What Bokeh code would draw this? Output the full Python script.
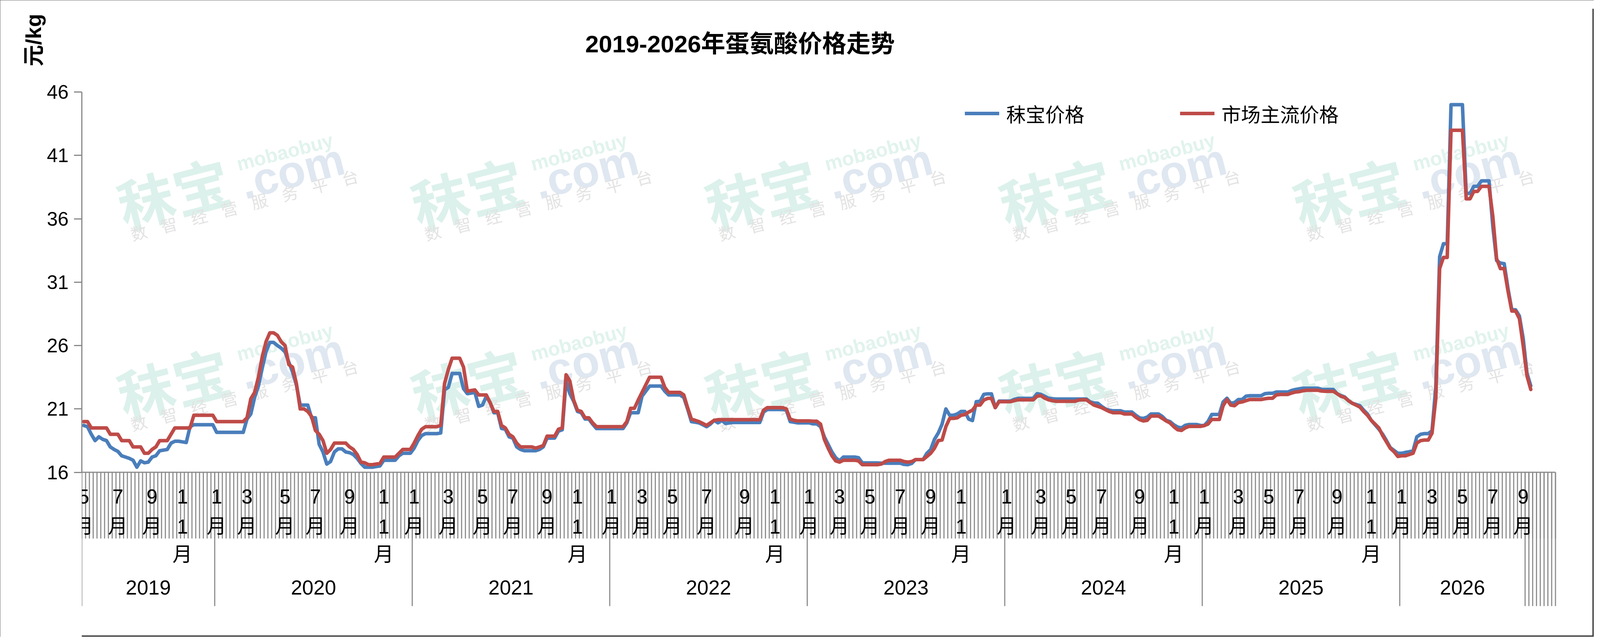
import numpy as np
from bokeh.plotting import figure
from bokeh.models import Range1d, FixedTicker, Title, Label, ColumnDataSource
from bokeh.core.properties import value
from bokeh.embed import file_html
from bokeh.resources import INLINE

# ---------------- data (weekly prices, 元/kg) ----------------
mobao_2019 = [19.7, 19.6, 19.0, 18.5, 18.8, 18.6, 18.5, 18.0, 17.8, 17.65, 17.3, 17.2, 17.1, 16.95, 16.4,
              16.9, 16.75, 16.8, 17.2, 17.3, 17.7, 17.75, 17.8, 18.3, 18.45, 18.45, 18.4, 18.35, 19.6, 19.75,
              19.75, 19.75, 19.75, 19.75, 19.75]
mobao_2020 = [19.15, 19.15, 19.15, 19.15, 19.15, 19.15, 19.15, 19.15, 20.2, 20.6, 21.9, 22.8, 24.2, 25.5,
              26.25, 26.25, 26.0, 25.8, 25.5, 24.7, 23.9, 22.9, 21.3, 21.3, 21.3, 20.3, 20.3, 18.2, 17.6,
              16.65, 16.85, 17.6, 17.85, 17.85, 17.6, 17.55, 17.4, 17.1, 16.7, 16.4, 16.4, 16.4, 16.45, 16.5,
              16.95, 16.95, 16.95, 16.95, 17.3, 17.5, 17.5, 17.5]
mobao_2021 = [17.9, 18.5, 18.9, 19.05, 19.05, 19.05, 19.05, 19.1, 22.5, 22.7, 23.8, 23.8, 23.8, 22.6, 22.2,
              22.25, 22.3, 21.2, 21.3, 22.0, 21.5, 20.7, 20.7, 19.46, 19.4, 18.8, 18.7, 18.0, 17.8, 17.7,
              17.7, 17.7, 17.7, 17.8, 18.0, 18.7, 18.7, 18.7, 19.25, 19.35, 23.2, 22.2, 21.6, 20.8, 20.7,
              20.2, 20.2, 19.8, 19.45, 19.45, 19.45, 19.45]
mobao_2022 = [19.45, 19.45, 19.45, 19.45, 19.9, 20.7, 20.7, 20.7, 22.0, 22.4, 22.8, 22.8, 22.8, 22.8, 22.4,
              22.1, 22.1, 22.1, 22.1, 21.9, 21.0, 20.0, 19.95, 19.9, 19.75, 19.6, 19.8, 20.1, 19.9, 20.1,
              19.85, 19.9, 19.93, 19.93, 19.93, 19.93, 19.93, 19.93, 19.93, 19.93, 20.75, 20.95, 20.95, 20.95,
              20.95, 20.95, 20.9, 20.0, 19.95, 19.9, 19.9, 19.9]
mobao_2023 = [19.9, 19.82, 19.82, 19.6, 18.8, 18.2, 17.6, 17.15, 16.9, 17.2, 17.2, 17.2, 17.2, 17.15, 16.74,
              16.74, 16.74, 16.74, 16.74, 16.72, 16.72, 16.72, 16.72, 16.72, 16.72, 16.62, 16.6, 16.7, 17.0,
              17.0, 17.0, 17.5, 17.8, 18.6, 19.1, 19.8, 21.0, 20.5, 20.5, 20.6, 20.8, 20.8, 20.2, 20.08,
              21.57, 21.6, 22.15, 22.19, 22.19, 21.1, 21.62, 21.62]
mobao_2024 = [21.62, 21.62, 21.75, 21.83, 21.83, 21.83, 21.83, 21.83, 22.2, 22.15, 22.0, 21.85, 21.8, 21.78,
              21.78, 21.78, 21.78, 21.78, 21.78, 21.78, 21.78, 21.78, 21.55, 21.47, 21.45, 21.2, 21.0, 20.9,
              20.85, 20.85, 20.85, 20.75, 20.75, 20.75, 20.5, 20.29, 20.25, 20.35, 20.6, 20.6, 20.6, 20.4,
              20.1, 20.0, 19.75, 19.57, 19.5, 19.7, 19.77, 19.77, 19.77, 19.7]
mobao_2025 = [19.68, 20.0, 20.56, 20.56, 20.56, 21.55, 21.84, 21.45, 21.5, 21.74, 21.74, 22.0, 22.04, 22.04,
              22.04, 22.04, 22.2, 22.23, 22.23, 22.33, 22.33, 22.33, 22.33, 22.45, 22.53, 22.58, 22.63, 22.63,
              22.63, 22.63, 22.63, 22.53, 22.53, 22.53, 22.53, 22.2, 22.05, 21.94, 21.65, 21.45, 21.35, 21.25,
              20.9, 20.6, 20.1, 19.75, 19.4, 19.0, 18.5, 17.95, 17.72, 17.5]
mobao_2026 = [17.5, 17.57, 17.62, 17.7, 18.8, 19.0, 19.05, 19.05, 19.28, 22.8, 33.0, 34.03, 34.03, 45.0, 45.0,
              45.0, 45.0, 38.0, 38.0, 38.56, 38.56, 38.99, 38.99, 38.99, 35.41, 32.7, 32.5, 32.46, 30.5, 28.82,
              28.82, 28.33, 26.56, 23.81, 22.82]

market_2019 = [20.0, 20.0, 19.5, 19.5, 19.5, 19.5, 19.5, 19.0, 19.0, 19.0, 18.5, 18.5, 18.5, 18.0, 18.0,
               18.0, 17.5, 17.5, 17.8, 18.0, 18.5, 18.5, 18.5, 19.0, 19.5, 19.5, 19.5, 19.5, 19.5, 20.5,
               20.5, 20.5, 20.5, 20.5, 20.5]
market_2020 = [20.0, 20.0, 20.0, 20.0, 20.0, 20.0, 20.0, 20.0, 20.3, 21.8, 22.3, 23.5, 25.1, 26.3, 27.0,
               27.0, 26.8, 26.3, 26.0, 24.5, 24.3, 23.0, 21.0, 21.0, 20.8, 20.4, 19.3, 19.0, 18.5, 17.5,
               17.8, 18.3, 18.3, 18.3, 18.3, 18.0, 17.8, 17.4, 16.8, 16.75, 16.6, 16.6, 16.65, 16.7, 17.2,
               17.2, 17.2, 17.2, 17.5, 17.8, 17.8, 17.8]
market_2021 = [18.3, 18.9, 19.4, 19.6, 19.6, 19.6, 19.6, 19.7, 23.0, 24.1, 25.0, 25.0, 25.0, 24.3, 22.4,
               22.45, 22.5, 22.1, 22.1, 22.1, 21.5, 20.8, 20.8, 19.7, 19.5, 19.0, 18.8, 18.3, 18.0, 18.0,
               18.0, 18.0, 17.9, 18.0, 18.1, 18.85, 18.85, 18.85, 19.4, 19.5, 23.7, 23.2, 21.7, 20.9, 20.8,
               20.3, 20.3, 19.9, 19.6, 19.6, 19.6, 19.6]
market_2022 = [19.6, 19.6, 19.6, 19.6, 20.0, 21.05, 21.05, 21.7, 22.3, 22.9, 23.5, 23.5, 23.5, 23.5, 22.7,
               22.3, 22.3, 22.3, 22.3, 22.1, 21.1, 20.2, 20.1, 20.0, 19.85, 19.7, 19.9, 20.1, 20.15, 20.15,
               20.15, 20.15, 20.15, 20.15, 20.15, 20.15, 20.15, 20.15, 20.15, 20.15, 20.9, 21.1, 21.1, 21.1,
               21.1, 21.1, 21.0, 20.2, 20.1, 20.05, 20.05, 20.05]
market_2023 = [20.05, 20.03, 20.03, 19.8, 18.6, 17.9, 17.3, 16.9, 16.8, 16.95, 16.95, 16.95, 16.95, 16.9,
               16.6, 16.6, 16.6, 16.6, 16.6, 16.65, 16.85, 16.95, 16.95, 16.95, 16.95, 16.85, 16.8, 16.85,
               17.0, 17.0, 17.0, 17.25, 17.5, 17.9, 18.5, 18.55, 19.6, 20.25, 20.25, 20.3, 20.5, 20.55,
               20.75, 20.9, 21.3, 21.3, 21.7, 21.83, 21.83, 21.1, 21.57, 21.57]
market_2024 = [21.57, 21.57, 21.65, 21.72, 21.72, 21.72, 21.72, 21.72, 22.0, 22.05, 21.85, 21.72, 21.65,
               21.6, 21.6, 21.6, 21.6, 21.6, 21.6, 21.7, 21.72, 21.72, 21.5, 21.3, 21.2, 21.1, 20.95, 20.8,
               20.7, 20.7, 20.7, 20.6, 20.6, 20.6, 20.35, 20.15, 20.05, 20.1, 20.44, 20.44, 20.44, 20.25,
               20.05, 19.9, 19.6, 19.36, 19.3, 19.5, 19.62, 19.62, 19.62, 19.62]
market_2025 = [19.68, 19.8, 20.17, 20.17, 20.17, 21.25, 21.74, 21.3, 21.25, 21.5, 21.55, 21.65, 21.74, 21.74,
               21.74, 21.74, 21.8, 21.84, 21.84, 22.1, 22.14, 22.14, 22.14, 22.25, 22.33, 22.36, 22.43, 22.47,
               22.47, 22.47, 22.47, 22.41, 22.39, 22.39, 22.39, 22.2, 22.0, 21.9, 21.65, 21.45, 21.3, 21.15,
               20.8, 20.5, 20.1, 19.8, 19.5, 18.9, 18.4, 17.9, 17.62, 17.25]
market_2026 = [17.3, 17.3, 17.4, 17.5, 18.3, 18.5, 18.54, 18.54, 19.09, 21.84, 32.07, 32.95, 32.95, 42.98,
               42.98, 42.98, 42.98, 37.57, 37.57, 38.16, 38.16, 38.56, 38.56, 38.56, 36.2, 32.85, 32.07, 32.07,
               30.3, 28.72, 28.72, 28.13, 25.97, 23.6, 22.53]

mobao_price = (mobao_2019 + mobao_2020 + mobao_2021 + mobao_2022 + mobao_2023 + mobao_2024
               + mobao_2025 + mobao_2026)
market_price = (market_2019 + market_2020 + market_2021 + market_2022 + market_2023 + market_2024
                + market_2025 + market_2026)
week_index = list(range(len(mobao_price)))

# category axis: one category per week; labelled weeks and year groups
n_categories = 388
month_label_weeks = [0, 9, 18, 26,
                     35, 43, 53, 61, 70, 79,
                     87, 96, 105, 113, 122, 130,
                     139, 147, 155, 164, 174, 182,
                     191, 199, 207, 215, 223, 231,
                     243, 252, 260, 268, 278, 287,
                     295, 304, 312, 320, 330, 339,
                     347, 355, 363, 371, 379]
month_labels = (["5月", "7月", "9月", "11月"]
                + ["1月", "3月", "5月", "7月", "9月", "11月"] * 6
                + ["1月", "3月", "5月", "7月", "9月"])
years = ["2019", "2020", "2021", "2022", "2023", "2024", "2025", "2026"]
year_start = [0, 35, 87, 139, 191, 243, 295, 347]
year_end = [35, 87, 139, 191, 243, 295, 347, 380]
y_ticks = [16, 21, 26, 31, 36, 41, 46]

series_names = ["秣宝价格", "市场主流价格"]
title_text = "2019-2026年蛋氨酸价格走势"
unit_text = "元/kg"

# ---------------- layout helpers ----------------
# reference picture px (R) -> page px: horizontal KX, vertical 1; body margin OFF
KX = 4096 / 4419
OFF = 8
PX_X = 10.49             # reference px per category
PX_Y = 32.45             # reference px per 元
def xd(px):
    return (px - 234.0) / PX_X
def yd(py):
    return 16 + (1216.5 - py) / PX_Y

W, H = 4080, 1630
ML, MT, MR, MB = 209, 22, 0, 0
FL, FR = (ML + OFF) / KX, (W - MR + OFF) / KX      # frame edges in reference px
FT, FB = MT + OFF, H - MB + OFF

FONT = "Liberation Sans, Noto Sans CJK SC"
GRAY = "#898989"
BLUE = "#4A7EBB"
RED = "#BE4B48"
EDGE = "#404040"

p = figure(width=W, height=H, output_backend="svg", toolbar_location=None, title=None,
           x_range=Range1d(xd(FL), xd(FR)), y_range=Range1d(yd(FB), yd(FT)),
           x_axis_location=None,
           min_border_left=ML, min_border_right=MR, min_border_top=MT, min_border_bottom=MB)
p.grid.visible = False
p.outline_line_color = None
p.background_fill_color = "white"
p.border_fill_color = "white"
p.styles = {"outline": "4px solid " + EDGE, "outline-offset": "-4px"}

# right and bottom edges of the outer border (inside the frame)
p.segment(x0=[xd(FR - 2 / KX), xd(FL - 10)], y0=[yd(FT - 10), yd(FB - 2)],
          x1=[xd(FR - 2 / KX), xd(FR)], y1=[yd(FB), yd(FB - 2)], line_color=EDGE, line_width=4)

# y axis
ax = p.yaxis[0]
ax.ticker = FixedTicker(ticks=y_ticks)
ax.bounds = (16, 46)
ax.axis_line_color = GRAY
ax.axis_line_width = 3
ax.major_tick_line_color = GRAY
ax.major_tick_line_width = 3
ax.major_tick_out = 20
ax.major_tick_in = 0
ax.minor_tick_line_color = None
ax.major_label_text_font = "Liberation Sans"
ax.major_label_text_font_size = "50px"
ax.major_label_text_color = "black"
ax.major_label_standoff = 14

p.add_layout(Title(text=unit_text, align="right", text_font=FONT, text_font_size="55px",
                   text_font_style="bold", text_color="black", standoff=0, offset=13), "left")

# ---------------- watermark ----------------
theta = np.deg2rad(14.5)
wm = {"x": [], "y": [], "t": [], "c": [], "s": [], "st": []}
def add_wm(px, py, t, c, s, st):
    wm["x"].append(xd(px)); wm["y"].append(yd(py)); wm["t"].append(t)
    wm["c"].append(c); wm["s"].append(f"{s}px"); wm["st"].append(st)
for row in range(2):
    for k in range(5):
        dx, dy = 812 * k, 487 * row
        add_wm(490 + dx, 510 + dy, "秣宝", "#dcf1eb", 145, "bold")
        add_wm(815 + dx, 446 + dy, ".com", "#dfe7f1", 116, "bold")
        add_wm(795 + dx, 397 + dy, "mobaobuy", "#e1f3ed", 50, "bold")
        for j, ch in enumerate("数智经营服务平台"):
            add_wm(392 + dx + j * (975 - 392) / 7, 605 + dy - j * (605 - 464) / 7, ch,
                   "#e3e3e3", 42, "normal")
wsrc = ColumnDataSource(wm)
p.text(x="x", y="y", text="t", source=wsrc, angle=theta, text_color="c", text_font_size="s",
       text_font_style="st", text_font=value(FONT), text_align="center", text_baseline="middle")

# ---------------- category axis ----------------
bounds_all = list(range(n_categories + 1))
p.segment(x0=bounds_all, y0=16, x1=bounds_all, y1=yd(1386), line_color=GRAY, line_width=2.8)
full_lines = year_start + [year_end[-1]] + list(range(year_end[-1] + 1, n_categories + 1))
p.segment(x0=full_lines, y0=16, x1=full_lines, y1=yd(1559), line_color=GRAY, line_width=2.8)
p.segment(x0=[0], y0=[16], x1=[n_categories], y1=[16], line_color=GRAY, line_width=3)

row_y = [yd(1278), yd(1355), yd(1427)]
mx, my, mt = [], [], []
for wk, lab in zip(month_label_weeks, month_labels):
    for r, ch in enumerate(lab):
        mx.append(wk + 0.5); my.append(row_y[r]); mt.append(ch)
p.text(x=mx, y=my, text=mt, text_font=value(FONT), text_font_size="51px",
       text_color="black", text_align="center", text_baseline="middle")
p.text(x=[(a + b) / 2 for a, b in zip(year_start, year_end)], y=[yd(1511)] * len(years), text=years,
       text_font=value(FONT), text_font_size="52px", text_color="black",
       text_align="center", text_baseline="middle")

# ---------------- series ----------------
src = ColumnDataSource(dict(x=[w + 0.5 for w in week_index], mobao=mobao_price, market=market_price))
p.line("x", "mobao", source=src, line_color=BLUE, line_width=9, line_join="round", line_cap="round",
       legend_label=series_names[0])
p.line("x", "market", source=src, line_color=RED, line_width=9, line_join="round", line_cap="round",
       legend_label=series_names[1])

lg = p.legend[0]
lg.orientation = "horizontal"
LEG_H = 56
lg.location = (round(2673 * KX - OFF - ML), round((H - MB) - (285 - OFF) - LEG_H / 2 - 21))
lg.glyph_width = round(95 * KX)
lg.glyph_height = 18
lg.label_standoff = round(19 * KX)
lg.spacing = round(264 * KX)
lg.padding = 0
lg.margin = 0
lg.border_line_color = None
lg.background_fill_alpha = 0
lg.label_text_font = "Noto Sans CJK SC"
lg.label_text_font_size = "50px"
lg.label_text_color = "black"
lg.label_height = LEG_H

p.add_layout(Label(x=2052 * KX - OFF - ML, y=(H - MB) - (115 - OFF) - 5, x_units="screen", y_units="screen",
                   text=title_text, text_font=FONT, text_font_size="62px", text_font_style="bold",
                   text_color="black", text_align="center", text_baseline="middle"))

open("out.html", "w").write(file_html(p, INLINE))
